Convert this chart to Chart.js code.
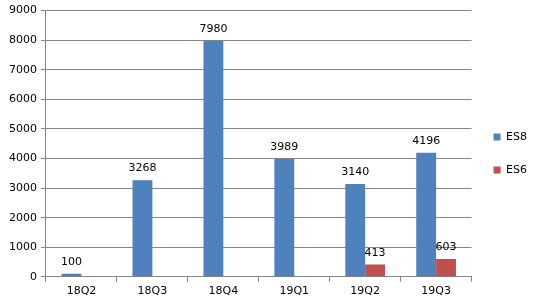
<!DOCTYPE html>
<html>
<head>
<meta charset="utf-8">
<script src="https://cdn.jsdelivr.net/npm/chart.js@4"></script>
<style>
  html, body { margin: 0; padding: 0; background: #fff; }
  #wrap { width: 544px; height: 302px; }
</style>
</head>
<body>
<div id="wrap"><canvas id="chart" width="544" height="302"></canvas></div>
<script>
// quarters and values
const quarters = ["18Q2", "18Q3", "18Q4", "19Q1", "19Q2", "19Q3"];
const es8 = [100, 3268, 7980, 3989, 3140, 4196];
const es6 = [null, null, null, null, 413, 603];
const yTicks = [0, 1000, 2000, 3000, 4000, 5000, 6000, 7000, 8000, 9000];

const FONT = { family: "'DejaVu Sans', Verdana, sans-serif", size: 11 };
const GRID = "#868686";

// value labels above bars
const barLabels = {
  id: "barLabels",
  afterDatasetsDraw(chart) {
    const ctx = chart.ctx;
    ctx.save();
    ctx.font = `${FONT.size}px ${FONT.family}`;
    ctx.fillStyle = "#000";
    ctx.textAlign = "center";
    ctx.textBaseline = "bottom";
    chart.data.datasets.forEach((ds, i) => {
      chart.getDatasetMeta(i).data.forEach((bar, j) => {
        const v = ds.data[j];
        if (v == null) return;
        ctx.fillText(String(v), bar.x, bar.y - 6);
      });
    });
    ctx.restore();
  }
};

new Chart(document.getElementById("chart"), {
  type: "bar",
  data: {
    labels: quarters,
    datasets: [
      { label: "ES8", data: es8, backgroundColor: "#4F81BD" },
      { label: "ES6", data: es6, backgroundColor: "#C0504D" },
    ],
  },
  options: {
    responsive: false,
    animation: false,
    categoryPercentage: 0.56,
    barPercentage: 1,
    layout: { padding: { top: 6, right: 7, left: 5, bottom: 1 } },
    plugins: {
      legend: {
        position: "right",
        labels: {
          boxWidth: 7, boxHeight: 7,
          padding: 22,
          color: "#000",
          font: FONT,
        },
      },
      tooltip: { enabled: false },
    },
    scales: {
      x: {
        grid: { drawOnChartArea: false, color: GRID, tickLength: 5 },
        border: { color: GRID },
        ticks: { color: "#000", font: FONT, padding: 3 },
      },
      y: {
        min: 0, max: 9000,
        afterBuildTicks: axis => { axis.ticks = yTicks.map(v => ({ value: v })); },
        grid: { color: GRID, tickLength: 5 },
        border: { color: GRID },
        ticks: { color: "#000", font: FONT, padding: 4, callback: v => String(v) },
      },
    },
  },
  plugins: [barLabels],
});
</script>
</body>
</html>
